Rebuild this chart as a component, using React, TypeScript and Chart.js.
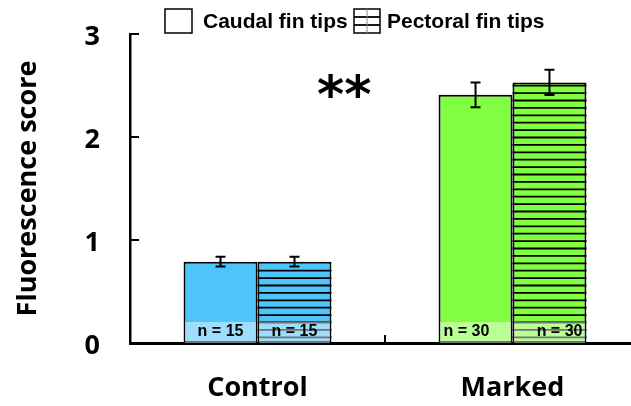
import { useEffect, useRef } from 'react';
import { Chart, registerables } from 'chart.js';

Chart.register(...registerables);

const categories = ['Control', 'Marked'];
const seriesNames = ['Caudal fin tips', 'Pectoral fin tips'];
const caudalValues = [0.79, 2.41];
const pectoralValues = [0.79, 2.53];
const caudalErrors = [0.047, 0.12];
const pectoralErrors = [0.047, 0.123];
const caudalN = [15, 30];
const pectoralN = [15, 30];
const yTicks = [0, 1, 2, 3];
const significance = '**';

const BLUE = '#4FC4FA';
const GREEN = '#80FF40';
const categoryColors = [BLUE, GREEN];

const customPlugin = {
  id: 'customDraw',
  afterDatasetsDraw(chart: any) {
    const ctx = chart.ctx as CanvasRenderingContext2D;
    const yScale = chart.scales.y;
    const xScale = chart.scales.x;
    const base = yScale.getPixelForValue(0);
    const ns = [caudalN, pectoralN];
    const vals = [caudalValues, pectoralValues];
    const errs = [caudalErrors, pectoralErrors];

    // hatching on pectoral bars
    chart.getDatasetMeta(1).data.forEach((bar: any) => {
      const { x, y, width } = bar.getProps(['x', 'y', 'width'], true);
      const left = x - width / 2;
      const right = x + width / 2;
      ctx.save();
      ctx.strokeStyle = '#000';
      ctx.lineWidth = 1.8;
      for (let ly = base - 5.7; ly > y + 2; ly -= 7.4) {
        ctx.beginPath();
        ctx.moveTo(left, ly);
        ctx.lineTo(right, ly);
        ctx.stroke();
      }
      ctx.restore();
    });

    // n overlays
    [0, 1].forEach((di) => {
      chart.getDatasetMeta(di).data.forEach((bar: any, i: number) => {
        const { x, width } = bar.getProps(['x', 'width'], true);
        const left = x - width / 2;
        const right = x + width / 2;
        ctx.save();
        ctx.fillStyle = 'rgba(255,255,255,0.45)';
        ctx.fillRect(left + 1.5, base - 21, width - 3, 21);
        ctx.fillStyle = '#000';
        ctx.font = 'bold 16px "Liberation Sans", Arial, sans-serif';
        ctx.textBaseline = 'middle';
        let tx = x;
        if (i === 0) {
          ctx.textAlign = 'center';
        } else if (di === 0) {
          ctx.textAlign = 'left';
          tx = left + 5;
        } else {
          ctx.textAlign = 'right';
          tx = right - 4;
        }
        ctx.fillText(`n = ${ns[di][i]}`, tx, base - 11);
        ctx.restore();
      });
    });

    // error bars
    [0, 1].forEach((di) => {
      chart.getDatasetMeta(di).data.forEach((bar: any, i: number) => {
        const { x } = bar.getProps(['x'], true);
        const top = yScale.getPixelForValue(vals[di][i] + errs[di][i]);
        const bot = yScale.getPixelForValue(vals[di][i] - errs[di][i]);
        ctx.save();
        ctx.strokeStyle = '#000';
        ctx.lineWidth = 2;
        ctx.beginPath();
        ctx.moveTo(x, top);
        ctx.lineTo(x, bot);
        ctx.moveTo(x - 5, top);
        ctx.lineTo(x + 5, top);
        ctx.moveTo(x - 5, bot);
        ctx.lineTo(x + 5, bot);
        ctx.stroke();
        ctx.restore();
      });
    });

    // inward ticks
    const area = chart.chartArea;
    ctx.save();
    ctx.strokeStyle = '#000';
    ctx.lineWidth = 2;
    yTicks.forEach((v) => {
      if (v === 0) return;
      const py = yScale.getPixelForValue(v);
      ctx.beginPath();
      ctx.moveTo(area.left - 1, py);
      ctx.lineTo(area.left + 9, py);
      ctx.stroke();
    });
    const midX = (xScale.getPixelForValue(0) + xScale.getPixelForValue(1)) / 2;
    ctx.beginPath();
    ctx.moveTo(midX, base);
    ctx.lineTo(midX, base - 8);
    ctx.stroke();
    ctx.restore();

    // significance
    ctx.save();
    ctx.fillStyle = '#000';
    ctx.font = 'bold 52px "DejaVu Sans", sans-serif';
    ctx.textAlign = 'center';
    ctx.textBaseline = 'alphabetic';
    ctx.fillText(significance, xScale.getPixelForValue(0.34), yScale.getPixelForValue(2.5) + 26);
    ctx.restore();

    // legend
    ctx.save();
    ctx.fillStyle = '#fff';
    ctx.strokeStyle = '#000';
    ctx.lineWidth = 1.5;
    ctx.fillRect(165, 9, 27, 24);
    ctx.strokeRect(165, 9, 27, 24);
    ctx.fillRect(354, 9, 26, 24);
    ctx.strokeRect(354, 9, 26, 24);
    ctx.lineWidth = 1.8;
    [17, 25].forEach((ly) => {
      ctx.beginPath();
      ctx.moveTo(354, ly);
      ctx.lineTo(380, ly);
      ctx.stroke();
    });
    ctx.strokeStyle = '#888';
    ctx.lineWidth = 1;
    ctx.beginPath();
    ctx.moveTo(367, 9);
    ctx.lineTo(367, 33);
    ctx.stroke();
    ctx.fillStyle = '#000';
    ctx.font = 'bold 21px "Liberation Sans", Arial, sans-serif';
    ctx.textAlign = 'left';
    ctx.textBaseline = 'alphabetic';
    ctx.fillText(seriesNames[0], 203, 28);
    ctx.fillText(seriesNames[1], 387, 28);
    ctx.restore();
  },
};

export default function App() {
  const canvasRef = useRef<HTMLCanvasElement | null>(null);

  useEffect(() => {
    if (!canvasRef.current) return;
    const axisFont = { family: '"Open Sans", sans-serif', weight: 'bold' as const, size: 27 };
    const chart = new Chart(canvasRef.current, {
      type: 'bar',
      data: {
        labels: categories,
        datasets: [
          {
            label: seriesNames[0],
            data: caudalValues,
            backgroundColor: categoryColors,
            borderColor: '#000',
            borderWidth: 2,
            borderSkipped: false,
            categoryPercentage: 0.58,
            barPercentage: 1.0,
          },
          {
            label: seriesNames[1],
            data: pectoralValues,
            backgroundColor: categoryColors,
            borderColor: '#000',
            borderWidth: 2,
            borderSkipped: false,
            categoryPercentage: 0.58,
            barPercentage: 1.0,
          },
        ],
      },
      options: {
        responsive: false,
        animation: false,
        devicePixelRatio: 1,
        layout: { padding: { top: 34, right: 1, left: 0, bottom: 0 } },
        plugins: {
          legend: { display: false },
          tooltip: { enabled: false },
        },
        scales: {
          x: {
            afterFit: (s: any) => {
              s.height = 63;
              s.paddingLeft = 0;
              s.paddingRight = 0;
            },
            ticks: { font: axisFont, color: '#000', padding: 29 },
            grid: { display: false, drawTicks: false },
            border: { display: true, color: '#000', width: 3 },
          },
          y: {
            min: 0,
            max: 3,
            afterFit: (s: any) => {
              s.width = 130;
              s.paddingTop = 0;
              s.paddingBottom = 0;
            },
            afterBuildTicks: (s: any) => {
              s.ticks = yTicks.map((v) => ({ value: v }));
            },
            ticks: { font: axisFont, color: '#000', padding: 30, labelOffset: 3 },
            grid: { display: false, drawTicks: false },
            border: { display: true, color: '#000', width: 2.5 },
            title: {
              display: true,
              text: 'Fluorescence score',
              font: axisFont,
              color: '#000',
              padding: { top: 12, bottom: 0 },
            },
          },
        },
      },
      plugins: [customPlugin],
    });
    return () => chart.destroy();
  }, []);

  return (
    <div
      style={{
        position: 'absolute',
        left: 0,
        top: 0,
        width: 631,
        height: 406,
        overflow: 'hidden',
        background: '#fff',
      }}
    >
      <canvas ref={canvasRef} width={641} height={406} style={{ display: 'block' }} />
    </div>
  );
}
